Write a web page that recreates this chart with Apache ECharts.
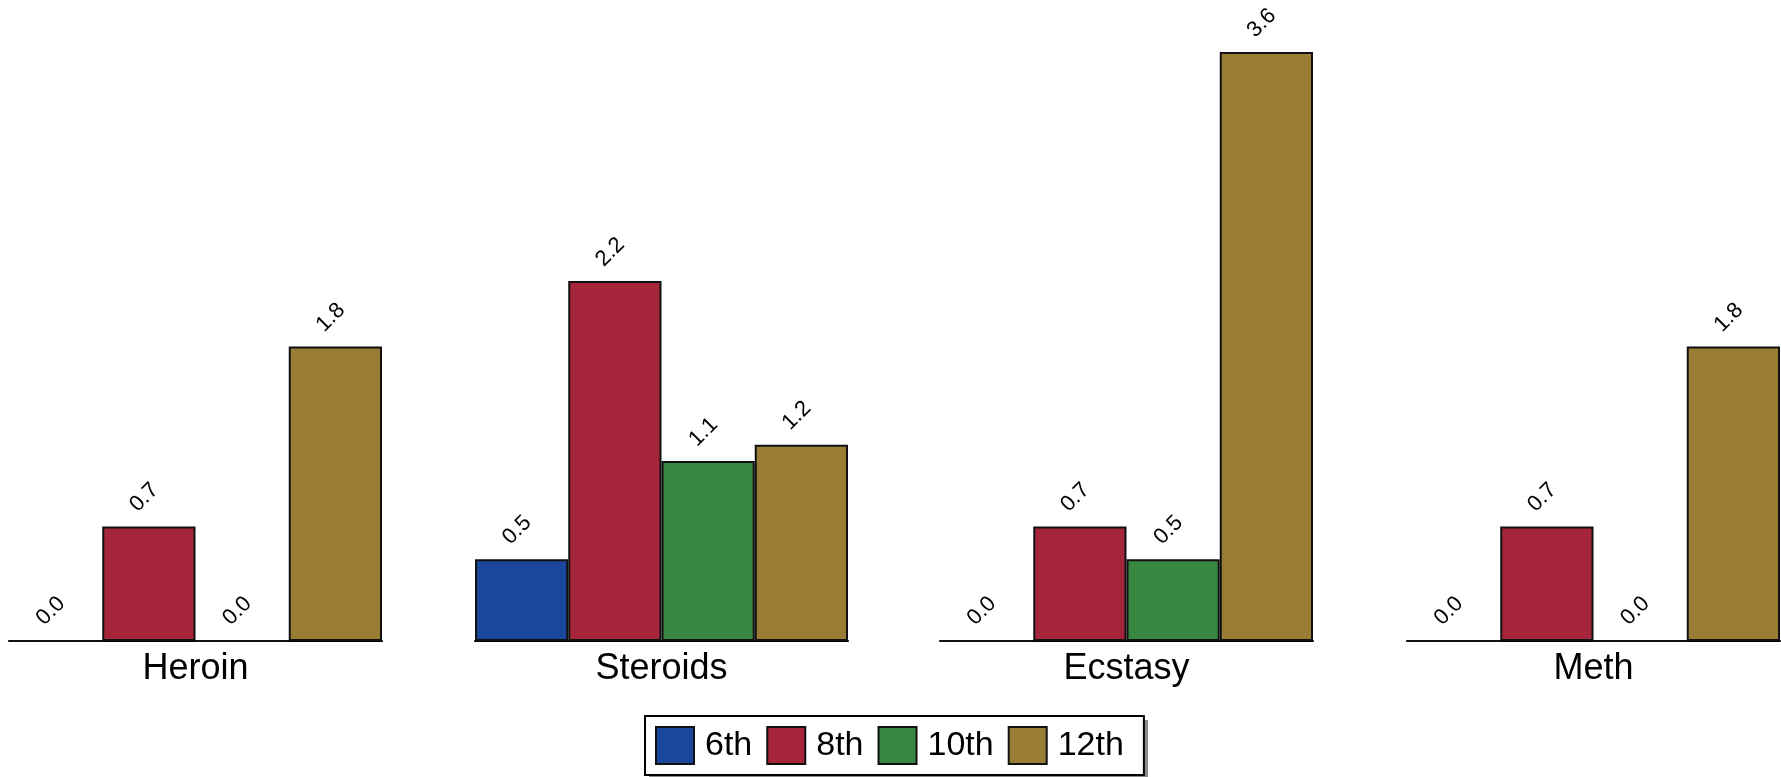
<!DOCTYPE html>
<html>
<head>
<meta charset="utf-8">
<script src="https://cdn.jsdelivr.net/npm/echarts@6/dist/echarts.min.js"></script>
<style>
  html, body { margin: 0; padding: 0; background: #fff; }
  #chart { width: 1781px; height: 777px; }
</style>
</head>
<body>
<div id="chart"></div>
<script>
const categories = ['Heroin', 'Steroids', 'Ecstasy', 'Meth'];
const seriesNames = ['6th', '8th', '10th', '12th'];
const grade6 = [0.0, 0.5, 0.0, 0.0];
const grade8 = [0.7, 2.2, 0.7, 0.7];
const grade10 = [0.0, 1.1, 0.5, 0.0];
const grade12 = [1.8, 1.2, 3.6, 1.8];
const colors = ['#1A479D', '#A5263B', '#388741', '#9A7D35'];

const values = [grade6, grade8, grade10, grade12];
const FONT = "'Liberation Sans', Arial, Helvetica, sans-serif";

const gridLefts = [9, 475, 940, 1407];
const grids = [], xAxes = [], yAxes = [], series = [];
categories.forEach((cat, i) => {
  grids.push({ left: gridLefts[i], width: 373, top: 3, bottom: 136, containLabel: false, outerBoundsMode: 'none' });
  xAxes.push({
    type: 'category', gridIndex: i, data: [cat],
    axisLine: { show: true, lineStyle: { color: '#000', width: 2 } },
    axisTick: { show: false },
    axisLabel: { color: '#000', fontSize: 36, fontFamily: FONT, margin: 10 },
    splitLine: { show: false }
  });
  yAxes.push({ type: 'value', gridIndex: i, min: 0, max: 3.9, show: false, splitLine: { show: false } });
  seriesNames.forEach((name, k) => {
    series.push({
      type: 'bar', name: name, xAxisIndex: i, yAxisIndex: i,
      data: [values[k][i]],
      barGap: '0%', barCategoryGap: '0%',
      itemStyle: { color: colors[k], borderColor: '#111', borderWidth: 2 },
      label: {
        show: true, position: ['45%', -29], rotate: 45,
        align: 'center', verticalAlign: 'middle',
        fontSize: 22, fontFamily: FONT, color: '#000',
        formatter: p => p.value.toFixed(1)
      },
      emphasis: { disabled: true },
      animation: false
    });
  });
});

const chart = echarts.init(document.getElementById('chart'), null, { renderer: 'canvas' });
chart.setOption({
  backgroundColor: '#fff',
  animation: false,
  graphic: [{
    type: 'rect', left: 649, top: 720, z: 0,
    shape: { width: 499, height: 59 },
    style: { fill: '#8a8a8a' }, silent: true
  }],
  grid: grids, xAxis: xAxes, yAxis: yAxes, series: series,
  legend: {
    data: seriesNames, left: 645, top: 716, orient: 'horizontal', z: 10,
    icon: 'rect', itemWidth: 38, itemHeight: 37, itemGap: 14,
    padding: [10, 20, 10, 10],
    borderColor: '#000', borderWidth: 2, backgroundColor: '#fff',
    itemStyle: { borderColor: '#111', borderWidth: 2 },
    textStyle: { fontSize: 34, fontFamily: FONT, color: '#000', padding: [0, 0, 0, 6] },
    selectedMode: false
  }
});
</script>
</body>
</html>
